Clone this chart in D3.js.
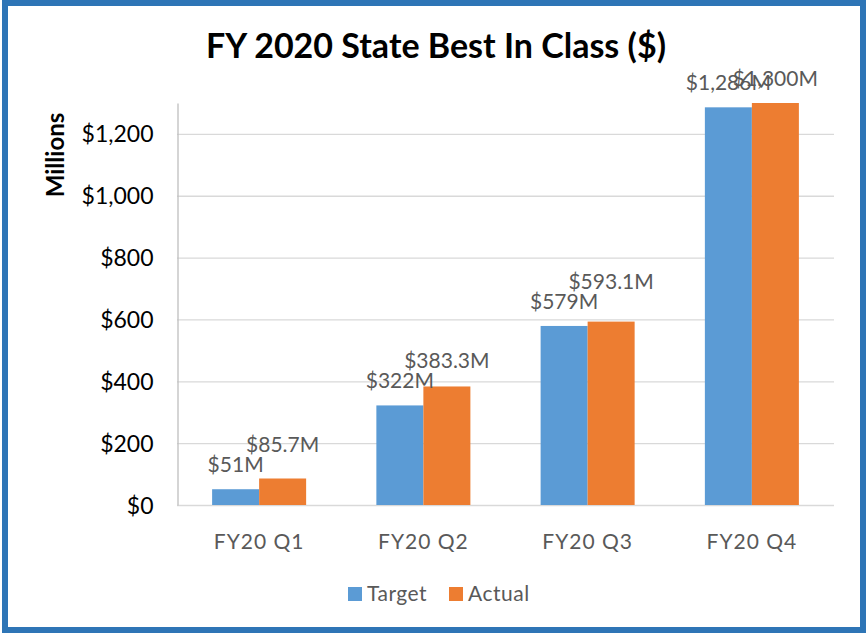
<!DOCTYPE html>
<html>
<head>
<meta charset="utf-8">
<script src="https://cdn.jsdelivr.net/npm/d3@7"></script>
<style>
  body { margin: 0; background: #fff; }
  text { font-family: Lato, "Open Sans", sans-serif; }
</style>
</head>
<body>
<div id="chart"></div>
<script>
const categories = ["FY20 Q1", "FY20 Q2", "FY20 Q3", "FY20 Q4"];
const seriesNames = ["Target", "Actual"];
const targetValues = [51, 322, 579, 1286];
const actualValues = [85.7, 383.3, 593.1, 1300];
const valueLabels = {
    Target: ["$51M", "$322M", "$579M", "$1,286M"],
    Actual: ["$85.7M", "$383.3M", "$593.1M", "$1,300M"]
};
const yTicks = [0, 200, 400, 600, 800, 1000, 1200];

const W = 866, H = 635;
const plot = { left: 177, right: 834, top: 103, bottom: 505 };
const colors = { Target: "#5B9BD5", Actual: "#ED7D31" };

const svg = d3.select("#chart")
              .append("svg")
              .attr("width", W)
              .attr("height", H);

// Border
svg.append("rect")
   .attr("x", 5).attr("y", 3)
   .attr("width", W - 8).attr("height", H - 8)
   .attr("fill", "#fff")
   .attr("stroke", "#2E75B6")
   .attr("stroke-width", 6);

const x0 = d3.scaleBand()
             .domain(categories)
             .range([plot.left, plot.right])
             .padding(0);

const x1 = d3.scaleBand()
             .domain(seriesNames)
             .range([0, x0.bandwidth()])
             .paddingInner(0)
             .paddingOuter(0.747);

const y = d3.scaleLinear()
            .domain([0, 1300])
            .range([plot.bottom, plot.top]);

// Gridlines
svg.append("g")
   .selectAll("line")
   .data(yTicks)
   .join("line")
   .attr("x1", plot.left)
   .attr("x2", plot.right)
   .attr("y1", d => y(d) + 0.5)
   .attr("y2", d => y(d) + 0.5)
   .attr("stroke", "#d9d9d9")
   .attr("stroke-width", 1.3);

// Y axis
const yAxis = svg.append("g")
   .attr("transform", `translate(${plot.left + 0.5},0)`)
   .call(d3.axisLeft(y).tickValues(yTicks).tickSize(0).tickPadding(24)
          .tickFormat(d => "$" + d3.format(",")(d)));
yAxis.select(".domain").attr("stroke", "#bfbfbf").attr("stroke-width", 1.3);
yAxis.selectAll("text")
     .attr("fill", "#000")
     .style("font-size", "23px")
     .attr("dy", "0.35em");

// Y axis title
svg.append("text")
   .attr("transform", `translate(64,155) rotate(-90)`)
   .attr("text-anchor", "middle")
   .style("font-size", "24px")
   .style("font-weight", "bold")
   .attr("fill", "#000")
   .text("Millions");

// Title
svg.append("text")
   .attr("x", 436)
   .attr("y", 58)
   .attr("text-anchor", "middle")
   .style("font-size", "34px")
   .style("font-weight", "bold")
   .attr("fill", "#000")
   .text("FY 2020 State Best In Class ($)");

// Data
const data = categories.map((c, i) => ({
    category: c,
    values: [
        { key: "Target", value: targetValues[i], label: valueLabels.Target[i] },
        { key: "Actual", value: actualValues[i], label: valueLabels.Actual[i] }
    ]
}));

const groups = svg.append("g")
   .selectAll("g")
   .data(data)
   .join("g")
   .attr("transform", d => `translate(${x0(d.category)},0)`);

groups.selectAll("rect")
      .data(d => d.values)
      .join("rect")
      .attr("x", d => x1(d.key))
      .attr("y", d => y(d.value))
      .attr("width", x1.bandwidth())
      .attr("height", d => y(0) - y(d.value))
      .attr("fill", d => colors[d.key]);

// Value labels: actual label is lifted above the target label when the two collide,
// unless lifting would push it past the top of the plot area
const labelGap = 17, lineStep = 20;
groups.each(function(d) {
    const g = d3.select(this);
    const t = d.values[0], a = d.values[1];
    const tBase = y(t.value) - labelGap;
    let aBase = y(a.value) - labelGap;
    if (tBase - aBase < lineStep && tBase - lineStep > plot.top - lineStep) {
        aBase = tBase - lineStep;
    }
    [[t, tBase], [a, aBase]].forEach(([v, base]) => {
        g.append("text")
         .attr("x", x1(v.key) + x1.bandwidth() / 2)
         .attr("y", base)
         .attr("text-anchor", "middle")
         .style("font-size", "21px")
         .attr("fill", "#595959")
         .text(v.label);
    });
});

// Category labels
svg.append("g")
   .selectAll("text")
   .data(categories)
   .join("text")
   .attr("x", d => x0(d) + x0.bandwidth() / 2)
   .attr("y", 549)
   .attr("text-anchor", "middle")
   .style("font-size", "21px")
   .style("letter-spacing", "1px")
   .attr("fill", "#595959")
   .text(d => d);

// Legend
const legend = svg.append("g")
   .selectAll("g")
   .data(seriesNames)
   .join("g")
   .attr("transform", (d, i) => `translate(${348 + i * 101},587)`);

legend.append("rect")
      .attr("width", 14)
      .attr("height", 14)
      .attr("fill", d => colors[d]);

legend.append("text")
      .attr("x", 19)
      .attr("y", 14)
      .style("font-size", "21px")
      .style("letter-spacing", "0.5px")
      .attr("fill", "#595959")
      .text(d => d);
</script>
</body>
</html>
